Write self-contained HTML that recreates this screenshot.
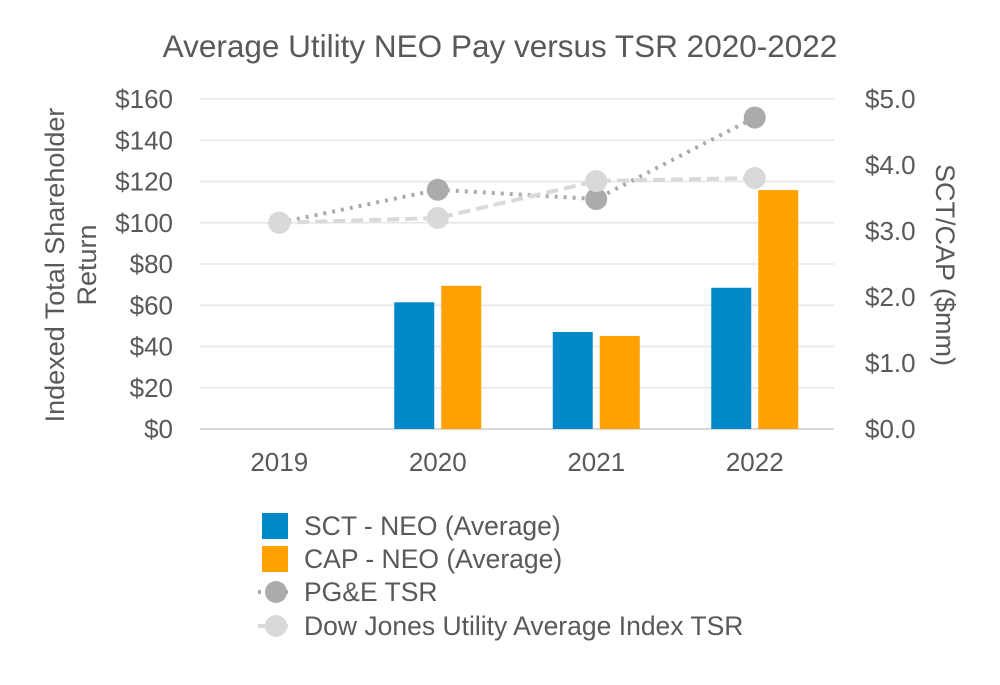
<!DOCTYPE html>
<html><head><meta charset="utf-8"><style>
body{margin:0;background:#fff;font-family:"Liberation Sans",Arial,sans-serif;}
svg text{font-family:"Liberation Sans",Arial,sans-serif;fill:#595959;}
</style></head><body>
<svg id="chart" width="1000" height="680" viewBox="0 0 1000 680" xmlns="http://www.w3.org/2000/svg">
<rect width="1000" height="680" fill="#fff"/>
<text x="500" y="57" font-size="31.5" text-anchor="middle">Average Utility NEO Pay versus TSR 2020-2022</text>
<g id="grid"></g><g id="bars"></g><g id="lines"></g><g id="axes"></g>
<text transform="translate(64,265) rotate(-90)" font-size="27" text-anchor="middle">Indexed Total Shareholder</text>
<text transform="translate(96,265) rotate(-90)" font-size="27" text-anchor="middle">Return</text>
<text transform="translate(936,265) rotate(90)" font-size="27" text-anchor="middle">SCT/CAP ($mm)</text>
<g>
<rect x="262" y="513" width="26" height="26" fill="#0088c8"/>
<text x="304" y="535" font-size="26.5">SCT - NEO (Average)</text>
<rect x="262" y="546" width="26" height="26" fill="#ffa200"/>
<text x="304" y="568" font-size="26.5">CAP - NEO (Average)</text>
<line x1="258" y1="592" x2="294" y2="592" stroke="#ababab" stroke-width="4" stroke-dasharray="3,6"/>
<circle cx="276" cy="592" r="11" fill="#ababab"/>
<text x="304" y="601" font-size="26.5">PG&amp;E TSR</text>
<line x1="258" y1="626" x2="294" y2="626" stroke="#d9d9d9" stroke-width="4" stroke-dasharray="12,6"/>
<circle cx="276" cy="626" r="11" fill="#d9d9d9"/>
<text x="304" y="635" font-size="26.5">Dow Jones Utility Average Index TSR</text>
</g>
</svg>
<script>
const categories=["2019","2020","2021","2022"];
const sctValues=[null,1.92,1.47,2.14];
const capValues=[null,2.17,1.41,3.62];
const pgeTsr=[100,116,111.5,151];
const djTsr=[100,102.3,120.2,121.7];
const leftTicks=["$0","$20","$40","$60","$80","$100","$120","$140","$160"];
const rightTicks=["$0.0","$1.0","$2.0","$3.0","$4.0","$5.0"];
const NS="http://www.w3.org/2000/svg";
const x0=200,x1=834,yB=429,yT=99;
const band=(x1-x0)/categories.length;
const xc=i=>x0+band*(i+0.5);
const yL=v=>yB-(v/160)*(yB-yT);
const yR=v=>yB-(v/5)*(yB-yT);
function mk(t,a,p){const e=document.createElementNS(NS,t);for(const k in a)e.setAttribute(k,a[k]);p.appendChild(e);return e;}
const grid=document.getElementById('grid'),bars=document.getElementById('bars'),lines=document.getElementById('lines'),axes=document.getElementById('axes');
leftTicks.forEach((t,i)=>{const v=i*20;
const g=mk('line',{x1:x0,x2:x1,y1:yL(v),y2:yL(v),stroke:i==0?'#d9d9d9':'#e6e6e6','stroke-width':i==0?2:1.5},grid);


const tx=mk('text',{x:173,y:yL(v)+9,'font-size':26,'text-anchor':'end'},axes);tx.textContent=t;

});
rightTicks.forEach((t,i)=>{const tx=mk('text',{x:865,y:yR(i)+9,'font-size':26},axes);tx.textContent=t;

});
categories.forEach((c,i)=>{const tx=mk('text',{x:xc(i),y:471,'font-size':26,'text-anchor':'middle'},axes);tx.textContent=c;

});
const bw=40,gap=7;
categories.forEach((c,i)=>{
if(sctValues[i]!=null){const r=mk('rect',{x:xc(i)-gap/2-bw,y:yR(sctValues[i]),width:bw,height:yB-yR(sctValues[i]),fill:'#0088c8'},bars);

}
if(capValues[i]!=null){const r=mk('rect',{x:xc(i)+gap/2,y:yR(capValues[i]),width:bw,height:yB-yR(capValues[i]),fill:'#ffa200'},bars);

}
});
function series(vals,color,dash,name){
const p=mk('polyline',{points:vals.map((v,i)=>xc(i)+','+yL(v)).join(' '),fill:'none',stroke:color,'stroke-width':4,'stroke-dasharray':dash},lines);


vals.forEach((v,i)=>{const c=mk('circle',{cx:xc(i),cy:yL(v),r:11,fill:color},lines);

});
}
series(pgeTsr,'#ababab','3,6','pge-tsr');
series(djTsr,'#d9d9d9','12,6','dj-tsr');
</script>
</body></html>
